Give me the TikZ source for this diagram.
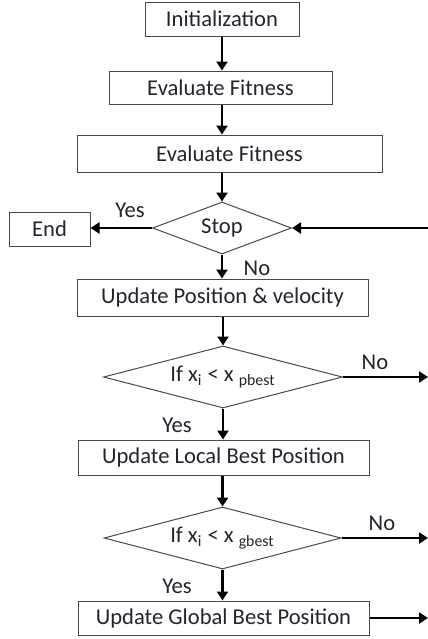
\documentclass[tikz,border=0pt]{standalone}
\usepackage{fontspec}
\setmainfont{Carlito}
\usepackage{tikz}
\usetikzlibrary{shapes.geometric}
\usetikzlibrary{arrows.meta}
\usepackage{xcolor}
\definecolor{inkc}{HTML}{22252E}
\definecolor{edgec}{HTML}{4A4A4A}

\begin{document}
\begin{tikzpicture}[x=0.5pt,y=-0.5pt,
  every node/.style={font=\fontsize{11.3}{13}\selectfont, text=inkc},
  box/.style={draw=edgec, line width=0.5pt, inner sep=0pt, minimum height=17pt},
  choice/.style={diamond, draw=edgec, line width=0.5pt, inner sep=0pt},
  flow/.style={line width=1.25pt, -{Triangle[length=4.5pt,width=5.5pt]}},
  lbl/.style={inner sep=0pt}]
  \useasboundingbox (0,0) rectangle (428,639);
  % boxes and decisions
  \node[box, minimum width=77pt] (init) at (222,19) {Initialization};
  \node[box, minimum width=111.5pt, minimum height=16.5pt] (fit1) at (220.5,87.5) {Evaluate Fitness};
  \node[box, minimum width=152.5pt, minimum height=18.5pt] (fit2) at (229.5,153.5) {Evaluate Fitness};
  \node[choice, aspect=2.67, minimum width=69.5pt, minimum height=26pt] (stop) at (222,228) {Stop};
  \node[box, minimum width=40.5pt] (end) at (49.5,229) {End};
  \node[box, minimum width=145.5pt, minimum height=18.5pt] (move) at (222.5,297.5) {Update Position \& velocity};
  \node[choice, aspect=3.85, minimum width=119.5pt, minimum height=31pt] (pbest) at (223,377) {If x\textsubscript{i} < x \textsubscript{pbest}};
  \node[box, minimum width=145.5pt, minimum height=17.5pt] (local) at (223.5,457.5) {Update Local Best Position};
  \node[choice, aspect=3.82, minimum width=118.5pt, minimum height=31pt] (gbest) at (222.5,538) {If x\textsubscript{i} < x \textsubscript{gbest}};
  \node[box, minimum width=145.5pt] (global) at (223.5,618) {Update Global Best Position};
  % free ends on the right
  \coordinate (back) at (428,228);
  \coordinate (outp) at (428,377);
  \coordinate (outg) at (428,538);
  \coordinate (outl) at (428,618);
  % connectors
  \draw[flow] (init.south) -- (init.south |- fit1.north);
  \draw[flow] (fit1.south -| stop.north) -- (fit2.north -| stop.north);
  \draw[flow] (fit2.south -| stop.north) -- (stop.north);
  \draw[flow] (back) -- (stop.east);
  \draw[flow] (stop.west) -- (stop.west -| end.east);
  \draw[flow] (stop.south) -- (move.north -| stop.south);
  \draw[flow] (move.south -| pbest.north) -- (pbest.north);
  \draw[flow] (pbest.east) -- (outp);
  \draw[flow] (pbest.south) -- (local.north -| pbest.south);
  \draw[flow] (local.south -| gbest.north) -- (gbest.north);
  \draw[flow] (gbest.east) -- (outg);
  \draw[flow] (gbest.south) -- (global.north -| gbest.south);
  \draw[flow] (global.east) -- (outl);
  % labels
  \node[lbl] (yes1) at (130,210) {Yes};
  \node[lbl] (no1) at (257,268) {No};
  \node[lbl] (no2) at (375,362) {No};
  \node[lbl] (yes2) at (177,425) {Yes};
  \node[lbl] (no3) at (382,523) {No};
  \node[lbl] (yes3) at (177,586) {Yes};
\end{tikzpicture}
\end{document}
